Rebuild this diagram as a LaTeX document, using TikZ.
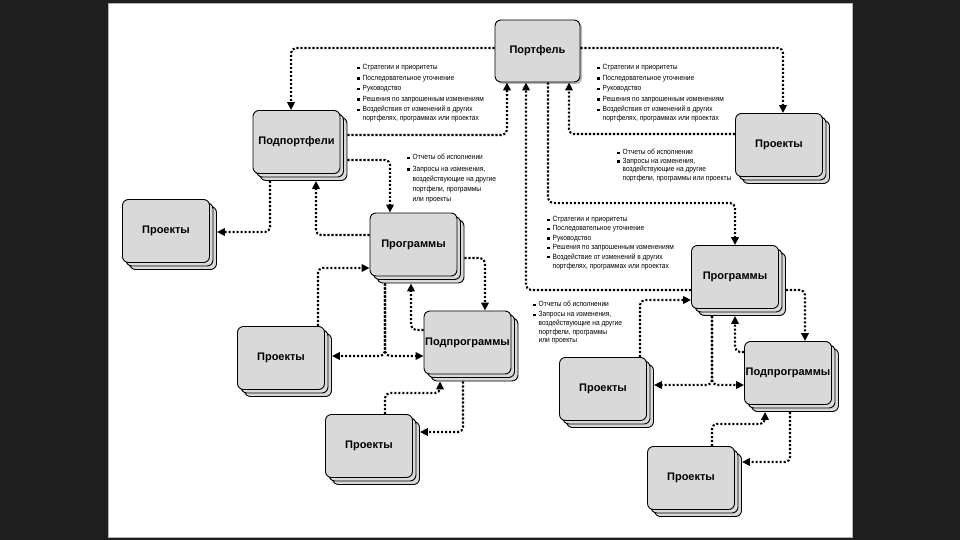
\documentclass[tikz,border=0pt]{standalone}
\usepackage{fontspec}
\setmainfont{Liberation Sans}
\newfontfamily\lstfont[FakeStretch=0.88]{Liberation Sans}
\usetikzlibrary{arrows.meta}
\definecolor{bgdark}{HTML}{1E1E1E}
\definecolor{boxgray}{HTML}{D9D9D9}
\newcommand\bul{\makebox[5.5pt][l]{\rule[0.6pt]{2.3pt}{2.3pt}}}
\newcommand\ind{\hspace*{5.5pt}}
\newcommand\stk[3]{%
  \node[layer] (#1-l2) at ([shift={(7,7)}]#2) {};
  \node[layer] (#1-l1) at ([shift={(3.5,3.5)}]#2) {};
  \node[front] (#1) at (#2) {#3};}
\begin{document}
\begin{tikzpicture}[x=1pt,y=-1pt,
  conn/.style={line width=2.1pt, dash pattern=on 2.1pt off 1.9pt, rounded corners=5pt},
  arr/.style={conn, -{Triangle[length=8pt,width=7.5pt]}},
  layer/.style={draw=black, line width=0.9pt, fill=boxgray, rounded corners=6pt,
    minimum width=87pt, minimum height=63pt, inner sep=0pt},
  front/.style={layer, font=\bfseries\fontsize{11}{13}\selectfont},
  lst/.style={anchor=north west, inner sep=0pt, align=left,
    font=\lstfont\fontsize{7.5}{8.6}\selectfont}
]
\useasboundingbox (0,0) rectangle (960,540);
\fill[bgdark] (0,0) rectangle (960,540);
\fill[white] (108,3) rectangle (852,537);
\draw[gray!60, line width=0.8pt] (108,3) rectangle (852,537);

% boxes
\node[fill=gray!55, rounded corners=6pt, minimum width=85pt, minimum height=62pt, inner sep=0pt] (port-sh) at (539.5,53) {};
\node[front, minimum width=85pt, minimum height=62pt] (port) at (537.5,51) {Портфель};
\stk{subp}{296.5,142}{Подпортфели}
\stk{projL}{166,231}{Проекты}
\stk{progL}{413.5,244.5}{Программы}
\stk{subprogL}{467.5,342.5}{Подпрограммы}
\stk{projML}{281,358}{Проекты}
\stk{projB}{369,446}{Проекты}
\stk{projR}{779,145}{Проекты}
\stk{progR}{735,277}{Программы}
\stk{subprogR}{788,373}{Подпрограммы}
\stk{projRM}{603,389}{Проекты}
\stk{projBR}{691,478}{Проекты}

% connectors
\draw[arr] (port.west |- 0,48) -| (291,0 |- subp.north);
\draw[arr] (port.east |- 0,48) -| (783,0 |- projR.north);
\draw[arr] (subp-l2.east |- 0,135) -| (507,0 |- port.south);
\draw[arr] (projR.west |- 0,134) -| (569,0 |- port.south);
\draw[arr] (548,0 |- port.south) |- (735,203) -- (735,0 |- progR.north);
\draw[arr] (progR.west |- 0,290) -| (526,0 |- port.south);
\draw[arr] (subp-l2.east |- 0,160) -| (390,0 |- progL.north);
\draw[arr] (270,0 |- subp-l2.south) |- (projL-l2.east |- 0,232);
\draw[arr] (progL.west |- 0,235) -| (316,0 |- subp-l2.south);
\draw[arr] (318,0 |- projML.north) |- (progL.west |- 0,268);
\draw[arr] (385,0 |- progL-l2.south) |- (projML-l2.east |- 0,356);
\draw[arr] (385,0 |- progL-l2.south) |- (subprogL.west |- 0,356);
\draw[arr] (subprogL.west |- 0,330) -| (411,0 |- progL-l2.south);
\draw[arr] (progL-l2.east |- 0,258) -| (485,0 |- subprogL.north);
\draw[arr] (463,0 |- subprogL-l2.south) |- (projB-l2.east |- 0,432);
\draw[arr] (385,0 |- projB.north) |- (440,393) -- (440,0 |- subprogL-l2.south);
\draw[arr] (progR-l2.east |- 0,290) -| (805,0 |- subprogR.north);
\draw[arr] (640,0 |- projRM.north) |- (progR.west |- 0,300);
\draw[arr] (712,0 |- progR-l2.south) |- (projRM-l2.east |- 0,385);
\draw[arr] (712,0 |- progR-l2.south) |- (subprogR.west |- 0,385);
\draw[arr] (subprogR.west |- 0,352) -| (735,0 |- progR-l2.south);
\draw[arr] (790,0 |- subprogR-l2.south) |- (projBR-l2.east |- 0,462);
\draw[arr] (712,0 |- projBR.north) |- (765,424) -- (765,0 |- subprogR-l2.south);

% lists
\node[lst] (l1) at (357,64.5) {\bul Стратегии и приоритеты\\[1.8pt]
\bul Последовательное уточнение\\[1.8pt]
\bul Руководство\\[1.8pt]
\bul Решения по запрошенным изменениям\\[1.8pt]
\bul Воздействия от изменений в других\\
\ind портфелях, программах или проектах};
\node[lst] (l2) at (597,64.5) {\bul Стратегии и приоритеты\\[1.8pt]
\bul Последовательное уточнение\\[1.8pt]
\bul Руководство\\[1.8pt]
\bul Решения по запрошенным изменениям\\[1.8pt]
\bul Воздействия от изменений в других\\
\ind портфелях, программах или проектах};
\node[lst] (l3) at (407,154) {\bul Отчеты об исполнении\\[3pt]
\bul Запросы на изменения,\\[1.5pt]
\ind воздействующие на другие\\[1.5pt]
\ind портфели, программы\\[1.5pt]
\ind или проекты};
\node[lst] (l4) at (617,149) {\bul Отчеты об исполнении\\
\bul Запросы на изменения,\\
\ind воздействующие на другие\\
\ind портфели, программы или проекты};
\node[lst] (l5) at (547,216) {\bul Стратегии и приоритеты\\[0.8pt]
\bul Последовательное уточнение\\[0.8pt]
\bul Руководство\\[0.8pt]
\bul Решения по запрошенным изменениям\\[0.8pt]
\bul Воздействие от изменений в других\\[0.8pt]
\ind портфелях, программах или проектах};
\node[lst] (l6) at (533,301) {\bul Отчеты об исполнении\\[1.5pt]
\bul Запросы на изменения,\\
\ind воздействующие на другие\\
\ind портфели, программы\\
\ind или проекты};
\end{tikzpicture}
\end{document}
